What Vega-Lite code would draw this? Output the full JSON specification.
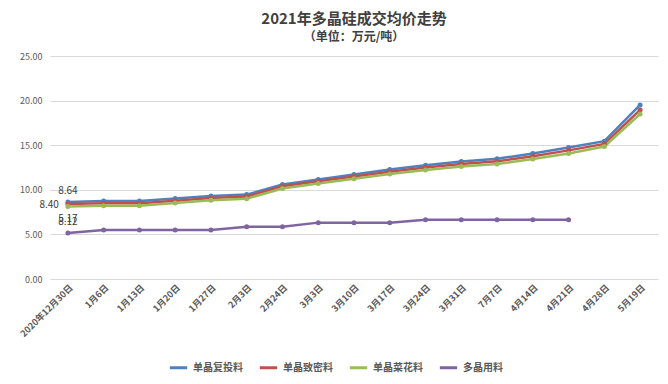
{
  "$schema": "https://vega.github.io/schema/vega-lite/v6.json",
  "width": 608,
  "height": 223,
  "autosize": "none",
  "padding": {"left": 50, "top": 56, "right": 10, "bottom": 105},
  "background": "white",
  "title": {
    "text": "2021年多晶硅成交均价走势",
    "subtitle": "（单位：万元/吨）",
    "font": "Noto Sans CJK SC",
    "fontSize": 15,
    "fontWeight": "bold",
    "color": "#404040",
    "subtitleFont": "Noto Sans CJK SC",
    "subtitleFontSize": 12,
    "subtitleFontWeight": "bold",
    "subtitleColor": "#404040",
    "subtitlePadding": 5,
    "anchor": "middle",
    "offset": 9
  },
  "config": {
    "view": {"stroke": null},
    "font": "Noto Sans CJK SC"
  },
  "datasets": {
    "prices": [
      {"date": "2020年12月30日", "series": "单晶复投料", "value": 8.64},
      {"date": "1月6日", "series": "单晶复投料", "value": 8.75},
      {"date": "1月13日", "series": "单晶复投料", "value": 8.75},
      {"date": "1月20日", "series": "单晶复投料", "value": 9.02},
      {"date": "1月27日", "series": "单晶复投料", "value": 9.30},
      {"date": "2月3日", "series": "单晶复投料", "value": 9.46},
      {"date": "2月24日", "series": "单晶复投料", "value": 10.60},
      {"date": "3月3日", "series": "单晶复投料", "value": 11.15},
      {"date": "3月10日", "series": "单晶复投料", "value": 11.72},
      {"date": "3月17日", "series": "单晶复投料", "value": 12.28},
      {"date": "3月24日", "series": "单晶复投料", "value": 12.76},
      {"date": "3月31日", "series": "单晶复投料", "value": 13.18},
      {"date": "7月7日", "series": "单晶复投料", "value": 13.48},
      {"date": "4月14日", "series": "单晶复投料", "value": 14.07},
      {"date": "4月21日", "series": "单晶复投料", "value": 14.74},
      {"date": "4月28日", "series": "单晶复投料", "value": 15.45},
      {"date": "5月19日", "series": "单晶复投料", "value": 19.51},
      {"date": "2020年12月30日", "series": "单晶致密料", "value": 8.40},
      {"date": "1月6日", "series": "单晶致密料", "value": 8.50},
      {"date": "1月13日", "series": "单晶致密料", "value": 8.50},
      {"date": "1月20日", "series": "单晶致密料", "value": 8.78},
      {"date": "1月27日", "series": "单晶致密料", "value": 9.08},
      {"date": "2月3日", "series": "单晶致密料", "value": 9.24},
      {"date": "2月24日", "series": "单晶致密料", "value": 10.40},
      {"date": "3月3日", "series": "单晶致密料", "value": 10.95},
      {"date": "3月10日", "series": "单晶致密料", "value": 11.50},
      {"date": "3月17日", "series": "单晶致密料", "value": 12.03},
      {"date": "3月24日", "series": "单晶致密料", "value": 12.50},
      {"date": "3月31日", "series": "单晶致密料", "value": 12.90},
      {"date": "7月7日", "series": "单晶致密料", "value": 13.20},
      {"date": "4月14日", "series": "单晶致密料", "value": 13.77},
      {"date": "4月21日", "series": "单晶致密料", "value": 14.42},
      {"date": "4月28日", "series": "单晶致密料", "value": 15.15},
      {"date": "5月19日", "series": "单晶致密料", "value": 18.95},
      {"date": "2020年12月30日", "series": "单晶菜花料", "value": 8.12},
      {"date": "1月6日", "series": "单晶菜花料", "value": 8.22},
      {"date": "1月13日", "series": "单晶菜花料", "value": 8.22},
      {"date": "1月20日", "series": "单晶菜花料", "value": 8.52},
      {"date": "1月27日", "series": "单晶菜花料", "value": 8.84},
      {"date": "2月3日", "series": "单晶菜花料", "value": 9.00},
      {"date": "2月24日", "series": "单晶菜花料", "value": 10.15},
      {"date": "3月3日", "series": "单晶菜花料", "value": 10.70},
      {"date": "3月10日", "series": "单晶菜花料", "value": 11.25},
      {"date": "3月17日", "series": "单晶菜花料", "value": 11.76},
      {"date": "3月24日", "series": "单晶菜花料", "value": 12.22},
      {"date": "3月31日", "series": "单晶菜花料", "value": 12.62},
      {"date": "7月7日", "series": "单晶菜花料", "value": 12.90},
      {"date": "4月14日", "series": "单晶菜花料", "value": 13.45},
      {"date": "4月21日", "series": "单晶菜花料", "value": 14.08},
      {"date": "4月28日", "series": "单晶菜花料", "value": 14.85},
      {"date": "5月19日", "series": "单晶菜花料", "value": 18.50},
      {"date": "2020年12月30日", "series": "多晶用料", "value": 5.17},
      {"date": "1月6日", "series": "多晶用料", "value": 5.48},
      {"date": "1月13日", "series": "多晶用料", "value": 5.48},
      {"date": "1月20日", "series": "多晶用料", "value": 5.48},
      {"date": "1月27日", "series": "多晶用料", "value": 5.48},
      {"date": "2月3日", "series": "多晶用料", "value": 5.86},
      {"date": "2月24日", "series": "多晶用料", "value": 5.86},
      {"date": "3月3日", "series": "多晶用料", "value": 6.32},
      {"date": "3月10日", "series": "多晶用料", "value": 6.32},
      {"date": "3月17日", "series": "多晶用料", "value": 6.32},
      {"date": "3月24日", "series": "多晶用料", "value": 6.63},
      {"date": "3月31日", "series": "多晶用料", "value": 6.63},
      {"date": "7月7日", "series": "多晶用料", "value": 6.65},
      {"date": "4月14日", "series": "多晶用料", "value": 6.65},
      {"date": "4月21日", "series": "多晶用料", "value": 6.65}
    ]
  },
  "data": {"name": "prices"},
  "encoding": {
    "x": {
      "field": "date",
      "type": "ordinal",
      "sort": null,
      "scale": {"type": "point", "padding": 0.5},
      "axis": {
        "title": null,
        "labelAngle": -45,
        "labelFontSize": 9,
        "labelFontWeight": "bold",
        "labelColor": "#595959",
        "ticks": false,
        "domain": false,
        "labelPadding": 4
      }
    },
    "y": {
      "field": "value",
      "type": "quantitative",
      "scale": {"domain": [0, 25]},
      "axis": {
        "title": null,
        "values": [0, 5, 10, 15, 20, 25],
        "format": ".2f",
        "labelFontSize": 9,
        "labelColor": "#595959",
        "ticks": false,
        "domain": false,
        "gridColor": "#d9d9d9",
        "labelPadding": 8
      }
    },
    "color": {
      "field": "series",
      "type": "nominal",
      "sort": ["单晶复投料", "单晶致密料", "单晶菜花料", "多晶用料"],
      "scale": {
        "domain": ["单晶复投料", "单晶致密料", "单晶菜花料", "多晶用料"],
        "range": ["#4f81bd", "#c0504d", "#9bbb59", "#8064a2"]
      },
      "legend": {
        "title": null,
        "orient": "none",
        "legendX": 118,
        "legendY": 301,
        "direction": "horizontal",
        "symbolType": "stroke",
        "symbolStrokeWidth": 3,
        "symbolSize": 300,
        "labelFontSize": 10,
        "labelFontWeight": "bold",
        "labelColor": "#595959",
        "columnPadding": 10
      }
    }
  },
  "layer": [
    {
      "mark": {"type": "line", "strokeWidth": 2.5, "point": {"filled": true, "size": 25}}
    },
    {
      "transform": [{"filter": "datum.date == '2020年12月30日' && datum.series == '单晶复投料'"}],
      "mark": {"type": "text", "dy": -11, "fontSize": 10},
      "encoding": {"text": {"field": "value", "format": ".2f"}, "color": {"value": "#404040"}}
    },
    {
      "transform": [{"filter": "datum.date == '2020年12月30日' && datum.series == '单晶致密料'"}],
      "mark": {"type": "text", "align": "right", "dx": -9, "dy": 1, "fontSize": 10},
      "encoding": {"text": {"field": "value", "format": ".2f"}, "color": {"value": "#404040"}}
    },
    {
      "transform": [{"filter": "datum.date == '2020年12月30日' && datum.series == '单晶菜花料'"}],
      "mark": {"type": "text", "dy": 15, "fontSize": 10},
      "encoding": {"text": {"field": "value", "format": ".2f"}, "color": {"value": "#404040"}}
    },
    {
      "transform": [{"filter": "datum.date == '2020年12月30日' && datum.series == '多晶用料'"}],
      "mark": {"type": "text", "dy": -14, "fontSize": 10},
      "encoding": {"text": {"field": "value", "format": ".2f"}, "color": {"value": "#404040"}}
    }
  ]
}
